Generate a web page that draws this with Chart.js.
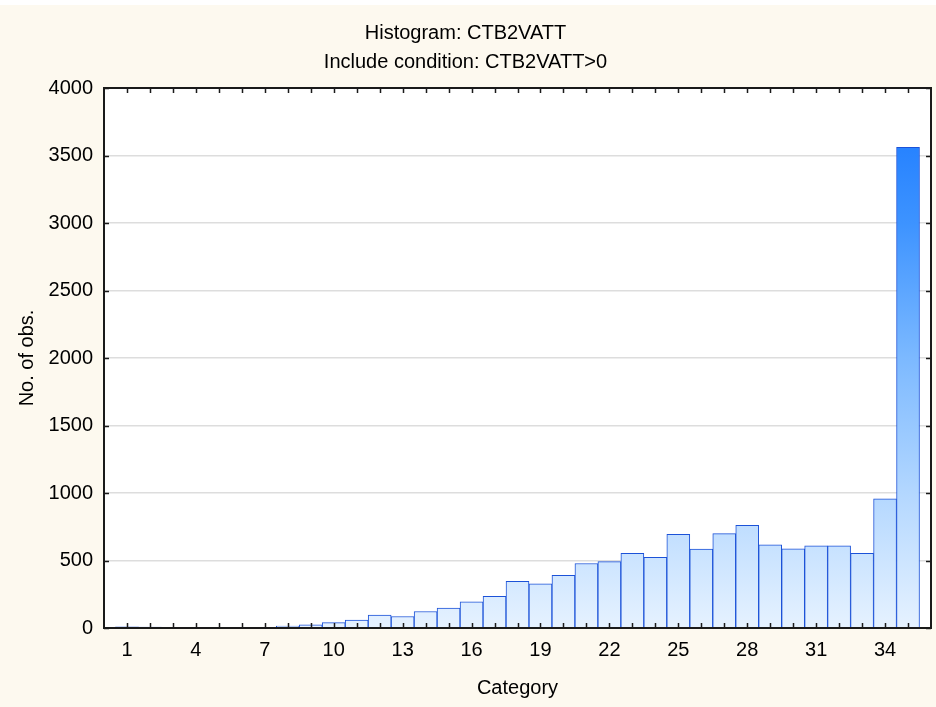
<!DOCTYPE html>
<html>
<head>
<meta charset="utf-8">
<title>Histogram: CTB2VATT</title>
<script src="https://cdn.jsdelivr.net/npm/chart.js@4.4.1/dist/chart.umd.min.js"></script>
<style>
    html, body { margin: 0; padding: 0; background: #fdf9ef; }
    #wrap { width: 936px; height: 707px; }
</style>
</head>
<body>
<div id="wrap"><canvas id="hist" width="936" height="707"></canvas></div>
<script>
// Datos del histograma
const categories = [1, 2, 3, 4, 5, 6, 7, 8, 9, 10, 11, 12, 13, 14, 15, 16, 17, 18,
    19, 20, 21, 22, 23, 24, 25, 26, 27, 28, 29, 30, 31, 32, 33, 34, 35];
const counts = [8, 6, 1, 0, 3, 3, 1, 15, 23, 40, 58, 95, 85, 122, 147, 194, 235, 346,
    328, 390, 478, 492, 553, 523, 694, 584, 699, 761, 617, 586, 608, 608, 553, 956, 3560];
const xTickLabels = [1, 4, 7, 10, 13, 16, 19, 22, 25, 28, 31, 34];
const yTicks = [0, 500, 1000, 1500, 2000, 2500, 3000, 3500, 4000];

const FONT = '"Liberation Sans", Arial, sans-serif';

document.addEventListener('DOMContentLoaded', function() {
    let grad = null;
    function barFill(ctx) {
        const chart = ctx.chart;
        const a = chart.chartArea;
        if (!a) return '#cfe6ff';
        if (!grad) {
            grad = chart.ctx.createLinearGradient(0, a.bottom, 0, a.top);
            grad.addColorStop(0, '#e6f2ff');
            grad.addColorStop(0.25, '#b3d7ff');
            grad.addColorStop(0.5, '#7cb9ff');
            grad.addColorStop(0.75, '#3d93ff');
            grad.addColorStop(1, '#1676ff');
        }
        return grad;
    }

    // fondo crema y área blanca
    const background = {
        id: 'background',
        beforeDraw(chart) {
            const c = chart.ctx, a = chart.chartArea;
            c.save();
            c.fillStyle = '#ffffff';
            c.fillRect(0, 0, chart.width, chart.height);
            c.fillStyle = '#fdf9ef';
            c.fillRect(0, 5, chart.width, chart.height - 5);
            c.fillStyle = '#ffffff';
            c.fillRect(a.left, a.top, a.right - a.left, a.bottom - a.top);
            c.restore();
        }
    };

    // marco y marcas de los ejes (hacia dentro)
    const frame = {
        id: 'frame',
        afterDraw(chart) {
            const c = chart.ctx, a = chart.chartArea;
            const xs = chart.scales.x, ys = chart.scales.y;
            c.save();
            c.strokeStyle = '#1a1a1a';
            c.lineWidth = 1.5;
            c.beginPath();
            categories.forEach(v => {
                const px = Math.round(xs.getPixelForValue(v)) + 0.5;
                c.moveTo(px, a.bottom); c.lineTo(px, a.bottom - 5);
                c.moveTo(px, a.top); c.lineTo(px, a.top + 5);
            });
            yTicks.forEach(v => {
                const py = Math.round(ys.getPixelForValue(v)) + 0.5;
                c.moveTo(a.left, py); c.lineTo(a.left + 5, py);
                c.moveTo(a.right, py); c.lineTo(a.right - 5, py);
            });
            c.stroke();
            c.lineWidth = 2;
            c.strokeRect(a.left, a.top, a.right - a.left, a.bottom - a.top);
            c.restore();
        }
    };

    const ctx1 = document.getElementById('hist').getContext('2d');
    const chart1 = new Chart(ctx1, {
        type: 'bar',
        data: {
            datasets: [{
                label: 'No. of obs.',
                data: categories.map((c, i) => ({ x: c, y: counts[i] })),
                backgroundColor: barFill,
                borderColor: '#1c52d8',
                borderWidth: 1,
                barPercentage: 1,
                categoryPercentage: 1
            }]
        },
        options: {
            responsive: false,
            animation: false,
            devicePixelRatio: 1,
            layout: { padding: { left: 0, right: 5, top: 0, bottom: 0 } },
            plugins: {
                legend: { display: false },
                tooltip: { enabled: false },
                title: {
                    display: true,
                    text: 'Histogram: CTB2VATT',
                    color: '#000',
                    font: { family: FONT, size: 20, weight: 'normal', lineHeight: 1.2 },
                    padding: { top: 21, bottom: 5 }
                },
                subtitle: {
                    display: true,
                    text: 'Include condition: CTB2VATT>0',
                    color: '#000',
                    font: { family: FONT, size: 20, weight: 'normal', lineHeight: 1.2 },
                    padding: { top: 0, bottom: 14 }
                }
            },
            scales: {
                x: {
                    type: 'linear',
                    min: 0,
                    max: 36,
                    offset: false,
                    afterBuildTicks: s => { s.ticks = xTickLabels.map(v => ({ value: v })); },
                    afterFit: s => { s.height = 79; },
                    grid: { display: false, drawTicks: false },
                    border: { display: false },
                    ticks: {
                        color: '#000',
                        padding: 10,
                        maxRotation: 0,
                        autoSkip: false,
                        callback: v => String(v),
                        font: { family: FONT, size: 20 }
                    },
                    title: {
                        display: true,
                        text: 'Category',
                        color: '#000',
                        font: { family: FONT, size: 20, lineHeight: 1.2 },
                        padding: { top: 0, bottom: 7 }
                    }
                },
                y: {
                    min: 0,
                    max: 4000,
                    afterBuildTicks: s => { s.ticks = yTicks.map(v => ({ value: v })); },
                    afterFit: s => { s.width = 104; },
                    grid: { color: '#dddddd', lineWidth: 1.5, drawTicks: false },
                    border: { display: false },
                    ticks: {
                        color: '#000',
                        padding: 11,
                        callback: v => String(v),
                        font: { family: FONT, size: 20 }
                    },
                    title: {
                        display: true,
                        text: 'No. of obs.',
                        color: '#000',
                        font: { family: FONT, size: 20, lineHeight: 1.2 },
                        padding: { top: 15, bottom: 0 }
                    }
                }
            }
        },
        plugins: [background, frame]
    });
});
</script>
</body>
</html>
